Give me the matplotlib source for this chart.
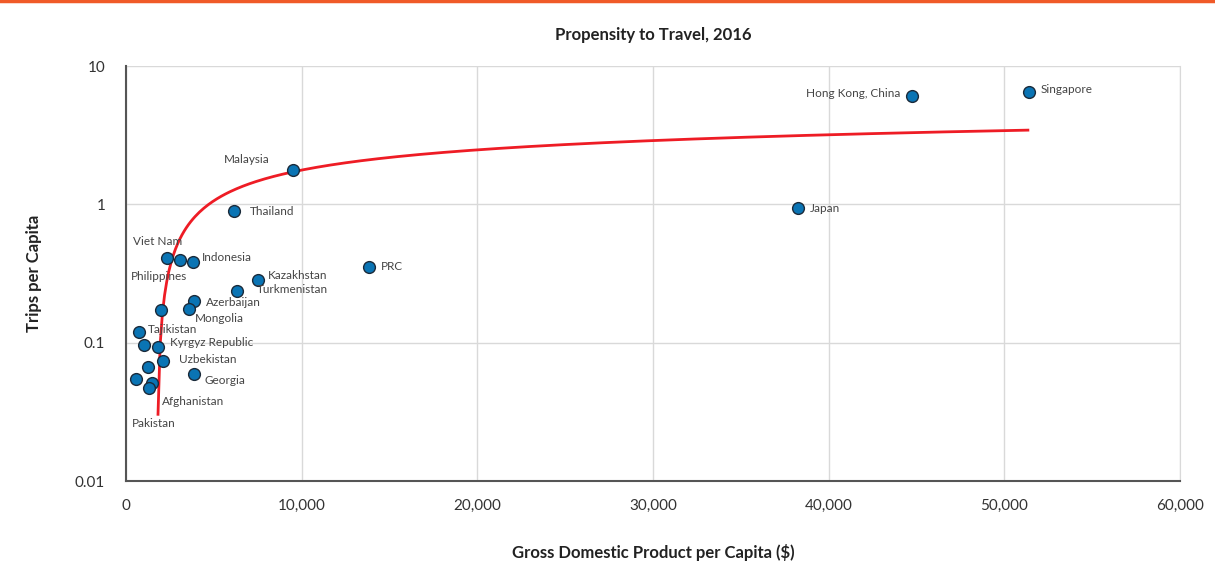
import numpy as np
import matplotlib.pyplot as plt
from matplotlib.ticker import FuncFormatter, FixedLocator

plt.rcParams['font.family'] = ['Lato', 'DejaVu Sans']

# GDP per capita ($) and trips per capita
gdp = [51380, 44740, 38250, 9520, 6150, 13850, 7500, 6320, 2320, 3070, 3800,
       3850, 3600, 1990, 760, 1040, 1820, 2090, 1270, 3850, 550, 1500, 1290]
trips = [6.49, 6.10, 0.94, 1.78, 0.90, 0.350, 0.284, 0.235, 0.411, 0.394, 0.381,
         0.201, 0.176, 0.173, 0.119, 0.096, 0.0934, 0.074, 0.067, 0.059, 0.0548, 0.051, 0.0472]

# labels: (text, point index, dx px, dy px, ha)
labels = [
    ('Singapore', 0, 12, 2, 'left'),
    ('Hong Kong, China', 1, -12, 2, 'right'),
    ('Japan', 2, 12, 0, 'left'),
    ('Malaysia', 3, -24, 10, 'right'),
    ('Thailand', 4, 16, -1, 'left'),
    ('PRC', 5, 12, 1, 'left'),
    ('Kazakhstan', 6, 10, 4, 'left'),
    ('Turkmenistan', 7, 20, 2, 'left'),
    ('Viet Nam', 8, -34, 16, 'left'),
    ('Indonesia', 10, 9, 5, 'left'),
    ('Philippines', 8, -36, -19, 'left'),
    ('Azerbaijan', 11, 12, -2, 'left'),
    ('Mongolia', 12, 6, -10, 'left'),
    ('Tajikistan', 14, 9, 3, 'left'),
    ('Kyrgyz Republic', 16, 12, 4, 'left'),
    ('Uzbekistan', 17, 16, 1, 'left'),
    ('Georgia', 19, 11, -6, 'left'),
    ('Afghanistan', 21, 10, -18, 'left'),
    ('Pakistan', 20, -4, -45, 'left'),
]

# logarithmic trendline: y = a*ln(x) + b
trend_a = 1.021
trend_b = -7.635
trend_x = np.linspace(1822, 51340, 400)
trend_y = trend_a * np.log(trend_x) + trend_b

fig = plt.figure(figsize=(12.15, 5.71), dpi=100)
ax = fig.add_axes([0.1037, 0.1576, 0.8675, 0.7268])

ax.plot(trend_x, trend_y, color='#ee1c25', lw=2, zorder=2)
ax.scatter(gdp, trips, s=72, color='#0a74b4', edgecolor='#1a2a3a', linewidth=1, zorder=3)

for text, i, dx, dy, ha in labels:
    ax.annotate(text, (gdp[i], trips[i]), xytext=(dx, dy), textcoords='offset pixels',
                ha=ha, va='center', fontsize=8.5, color='#444444')

ax.set_yscale('log')
ax.set_xlim(0, 60000)
ax.set_ylim(0.01, 10)
ax.xaxis.set_major_locator(FixedLocator([0, 10000, 20000, 30000, 40000, 50000, 60000]))
ax.xaxis.set_major_formatter(FuncFormatter(lambda v, p: f'{int(v):,}'))
ax.yaxis.set_major_locator(FixedLocator([0.01, 0.1, 1, 10]))
ax.yaxis.set_major_formatter(FuncFormatter(lambda v, p: f'{v:g}'))
ax.yaxis.set_minor_locator(FixedLocator([]))

ax.grid(True, color='#d9d9d9', lw=1)
ax.set_axisbelow(True)
ax.tick_params(length=0, labelsize=11, labelcolor='#333333')
ax.tick_params(axis='x', pad=13)
ax.tick_params(axis='y', pad=15)
ax.spines['top'].set_visible(False)
ax.spines['right'].set_color('#d9d9d9')
ax.spines['left'].set_color('#555555')
ax.spines['bottom'].set_color('#555555')
ax.spines['left'].set_linewidth(1.5)
ax.spines['bottom'].set_linewidth(1.5)

ax.set_title('Propensity to Travel, 2016', fontsize=12, fontweight='bold', color='#222222', pad=19)
ax.set_xlabel('Gross Domestic Product per Capita ($)', fontsize=12, fontweight='bold', color='#222222', labelpad=22)
ax.set_ylabel('Trips per Capita', fontsize=12, fontweight='bold', color='#222222', labelpad=24)

fig.add_artist(plt.Line2D([0, 1], [0.998, 0.998], color='#f05a28', lw=2.5, transform=fig.transFigure))

fig.savefig('out.png', dpi=100)
